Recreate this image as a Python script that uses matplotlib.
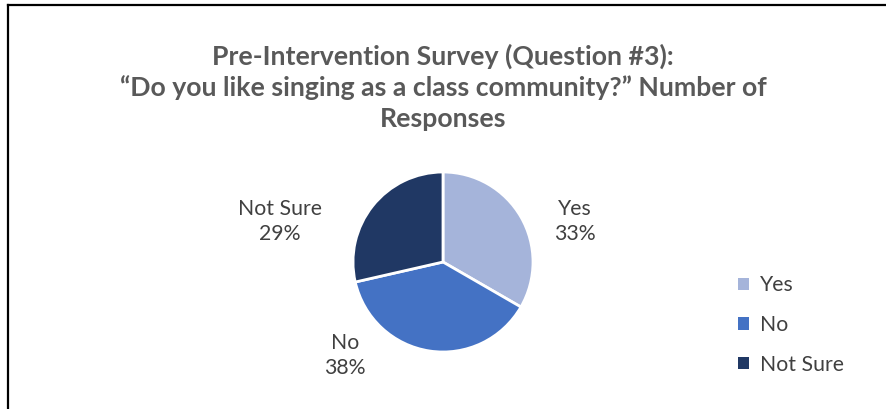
import matplotlib
matplotlib.use("Agg")
import matplotlib.pyplot as plt
from matplotlib.patches import Patch
from matplotlib.lines import Line2D

# 응답 데이터 (총 21명)
categories = ["Yes", "No", "Not Sure"]
responses = [7, 8, 6]
colors = ["#A5B4DA", "#4472C4", "#203864"]
label_pos = [(1.47, 0.45), (-1.09, -1.04), (-1.81, 0.45)]

title = ("Pre-Intervention Survey (Question #3):\n"
         "\u201cDo you like singing as a class community?\u201d Number of\n"
         "Responses")

W, H = 887, 409
fig = plt.figure(figsize=(W / 100, H / 100), dpi=100)
fig.patch.set_facecolor("white")

# 차트 테두리 (위, 왼쪽만 보임)
fig.add_artist(Line2D([8 / W, 1], [1 - 5 / H, 1 - 5 / H], color="black", lw=1.6))
fig.add_artist(Line2D([8 / W, 8 / W], [0, 1 - 5 / H], color="black", lw=1.6))

fig.text(443 / W, 1 - 87 / H, title, ha="center", va="center",
         fontsize=19.2, fontweight="bold", color="#595959",
         family=["Lato", "DejaVu Sans"], linespacing=1.32)

cx, cy, r = 443, 262, 90
ax = fig.add_axes([(cx - r) / W, (H - cy - r) / H, 2 * r / W, 2 * r / H])
wedges, _ = ax.pie(responses, colors=colors, startangle=90, counterclock=False,
                   radius=1, wedgeprops=dict(edgecolor="white", linewidth=2.0))
ax.set_xlim(-1, 1)
ax.set_ylim(-1, 1)
ax.set_aspect("equal")
ax.axis("off")

total = sum(responses)
for cat, n, (lx, ly) in zip(categories, responses, label_pos):
    ax.text(lx, ly, f"{cat}\n{round(100 * n / total)}%", ha="center", va="center",
            fontsize=15.3, color="#404040", family=["Lato", "DejaVu Sans"],
            linespacing=1.3, clip_on=False)

handles = [Patch(facecolor=c, edgecolor="none") for c in colors]
leg = fig.legend(handles, categories, loc="center left",
                 bbox_to_anchor=(719 / W, 1 - 325 / H), frameon=False,
                 handlelength=0.5, handleheight=0.5, handletextpad=0.55,
                 labelspacing=0.93, prop={"family": "Lato", "size": 15.3})
for t in leg.get_texts():
    t.set_color("#404040")

fig.savefig("out.png", dpi=100, facecolor="white")
